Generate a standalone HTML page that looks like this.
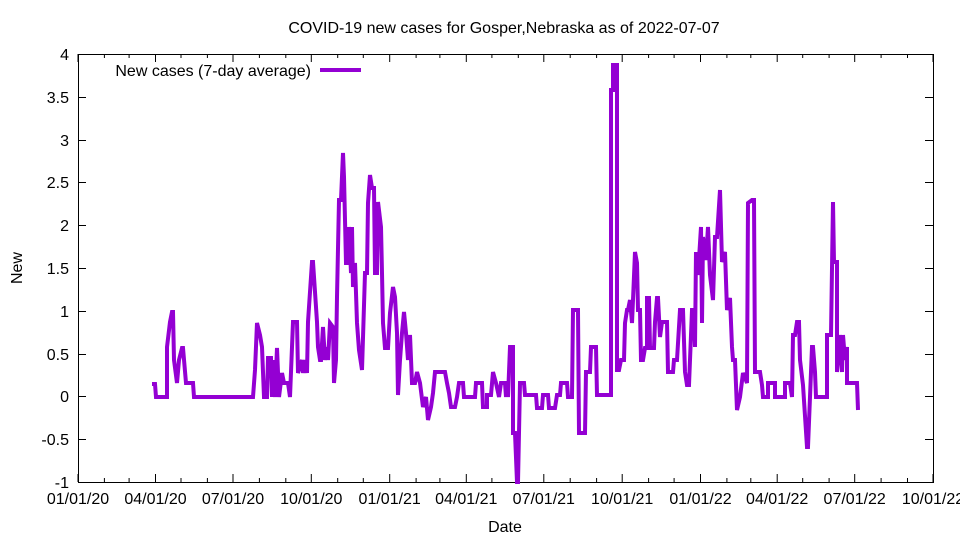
<!DOCTYPE html>
<html><head><meta charset="utf-8"><style>
body{margin:0;background:#fff}
svg text{font-family:"Liberation Sans",sans-serif;font-size:16px;fill:#000}
</style></head><body>
<svg width="960" height="540" xmlns="http://www.w3.org/2000/svg">
<rect width="960" height="540" fill="#fff"/>
<text x="504" y="33" text-anchor="middle">COVID-19 new cases for Gosper,Nebraska as of 2022-07-07</text>
<g stroke="#000" stroke-width="1" fill="none">
<rect x="78.5" y="54.5" width="855" height="428"/>
</g>
<g id="yt" stroke="#000" stroke-width="1">
<path d="M78 54.5h8M933 54.5h-8M78 97.5h8M933 97.5h-8M78 140.5h8M933 140.5h-8M78 182.5h8M933 182.5h-8M78 225.5h8M933 225.5h-8M78 268.5h8M933 268.5h-8M78 311.5h8M933 311.5h-8M78 354.5h8M933 354.5h-8M78 396.5h8M933 396.5h-8M78 439.5h8M933 439.5h-8M78 482.5h8M933 482.5h-8"/>
</g>
<g text-anchor="end">
<text x="69" y="60">4</text><text x="69" y="103">3.5</text><text x="69" y="146">3</text><text x="69" y="188">2.5</text><text x="69" y="231">2</text><text x="69" y="274">1.5</text><text x="69" y="317">1</text><text x="69" y="360">0.5</text><text x="69" y="402">0</text><text x="69" y="445">-0.5</text><text x="69" y="488">-1</text>
</g>
<g stroke="#000" stroke-width="1" id="xt"></g>
<g text-anchor="middle">
<text x="78" y="504">01/01/20</text><text x="155.5" y="504">04/01/20</text><text x="233" y="504">07/01/20</text><text x="311.3" y="504">10/01/20</text><text x="389.7" y="504">01/01/21</text><text x="466.3" y="504">04/01/21</text><text x="543.8" y="504">07/01/21</text><text x="622.2" y="504">10/01/21</text><text x="700.5" y="504">01/01/22</text><text x="777.2" y="504">04/01/22</text><text x="854.7" y="504">07/01/22</text><text x="933" y="504">10/01/22</text>
</g>
<text x="505" y="532" text-anchor="middle">Date</text>
<text x="22" y="268" text-anchor="middle" transform="rotate(-90 22 268)">New</text>
<text x="311" y="76" text-anchor="end">New cases (7-day average)</text>
<line x1="320" y1="70" x2="361" y2="70" stroke="#9400d3" stroke-width="4"/>
<polyline fill="none" stroke="#9400d3" stroke-width="4" stroke-linejoin="miter" points="
152,384 155,384 156,397 167,397 167,347 170,322 172,312 173,312 174,360 177,383 179,360 182,348 183,348 186,383 193,383 194,397 253,397 255,370 257,323 260,335 262,347 264,397 267,397 268,358 271,358 272,397 273,360 275,397 277,348 279,397 282,373 284,383 288,383 290,397 293,322 297,322 298,373 302,360 303,373 305,360 307,373 308,322 312,262 313,262 317,322 318,347 320,360
321,360 323,327 325,360 327,347 328,360 330,323 333,327 334,383 336,360 337,297 339,200 341,200 343,153 344,177 346,263 348,263 349,227 351,273 352,227 353,287 355,263 357,323 359,350 362,370 365,273 367,273 368,203 370,175 372,188 374,188 375,273 377,273 378,202 381,227 382,273 383,323 385,348 388,348 390,313 393,287 395,297 397,333 398,395 400,360 402,333 404,312 406,333 408,360 410,335 412,383 415,383 417,372 420,383 423,407 426,397 428,420 431,407 433,393 435,372 445,372 447,383 449,393 451,407 455,407 457,397 459,383 463,383 464,397 475,397 476,383 482,383 483,407 487,407 487,395 491,395 493,372 496,383 499,397 501,383 505,383 506,397
507,383 508,397 510,347 513,347 513,433 515,433 517,482 518,482 520,383 524,383 525,395 536,395 537,408 542,408 543,395 548,395 549,408 555,408 557,395 560,395 561,383 567,383 568,397 572,397 573,310 578,310 579,433 585,433 586,372 590,372 591,347 596,347 597,395 611,395 611,90 613,90 613,65 617,65 617,370 619,370 621,360 624,360 625,323 627,310 628,310 630,300 632,323 633,300 635,252 637,263 638,310 640,310 641,360 643,360 645,348 647,348 647,298 649,298 650,348 654,348 655,322 657,298 658,298 660,337 662,322 667,322 668,372 673,372 674,360 677,360 680,310 683,310 685,372 687,385 689,385 692,310 694,310 695,347 696,252
698,275 701,227 702,323 703,237 706,260 708,227 710,275 713,300 715,237 717,237 720,190 722,262 725,252 727,310 730,298 732,347 733,360 735,360 737,410 740,397 743,373 747,383 748,203 752,200 754,200 755,372 760,372 762,385 763,397 768,397 768,383 775,383 775,397 785,397 785,383 790,383 792,397 793,335 795,335 797,322 799,322 800,360 803,385 807,447 808,447 812,347 813,347 815,372 816,397 827,397 827,335 831,335 833,202 834,262 837,262 837,372 840,335 842,372 843,335 845,360 847,347 847,383 857,383 858,410"/>
</svg>
<script>
(function(){var g=document.getElementById('xt');var s='';
var base=Date.UTC(2020,0,1);var sc=855/1004;
for(var y=2020;y<=2022;y++)for(var m=0;m<12;m++){var d=(Date.UTC(y,m,1)-base)/86400000;if(d>1004)break;var x=(78+d*sc).toFixed(1);var L=(m%3==0)?8:4;s+='M'+x+' 482v-'+L+'M'+x+' 54v'+L;}
var p=document.createElementNS('http://www.w3.org/2000/svg','path');p.setAttribute('d',s);g.appendChild(p);})();
</script>
</body></html>
